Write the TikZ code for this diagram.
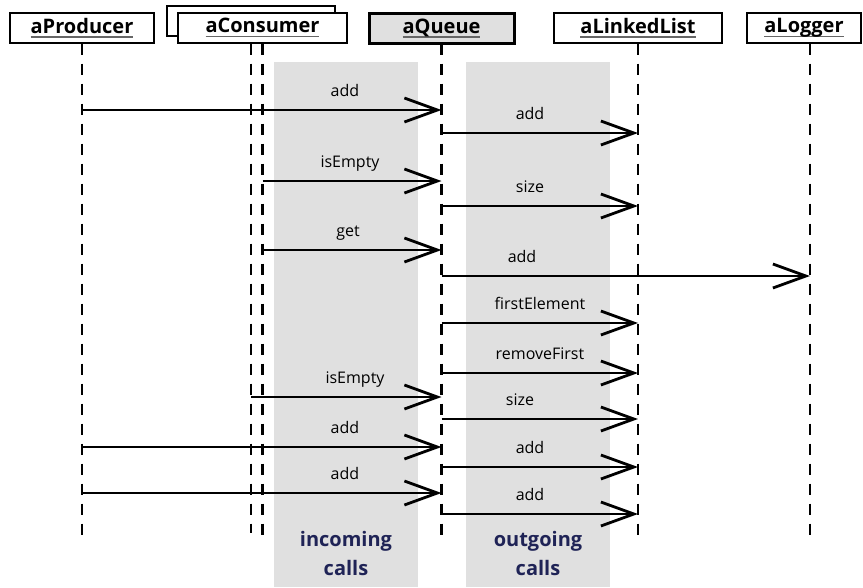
\documentclass[tikz,border=0pt]{standalone}
\usepackage{fontspec}
\setmainfont{Open Sans}
\usepackage{xcolor}
\usetikzlibrary{arrows.meta, positioning}
\definecolor{bandgray}{HTML}{E0E0E0}
\definecolor{callnavy}{HTML}{1F2356}
% underlined object name with a grey rule
\newcommand{\objname}[1]{\setbox0\hbox{#1}\rlap{\color{gray!80!black}\rule[-4.5pt]{\wd0}{1.6pt}}\box0}

\begin{document}
\begin{tikzpicture}[x=1pt, y=-1pt,
  obj/.style={draw, fill=white, line width=1.3pt, minimum height=30pt, inner sep=0pt,
    font=\bfseries\fontsize{20}{24}\selectfont},
  life/.style={line width=2.6pt, dash pattern=on 11pt off 9pt},
  msg/.style={line width=2.4pt, -{Straight Barb[length=33pt, width=24pt, line width=2.8pt]}},
  lbl/.style={font=\fontsize{16}{19}\selectfont, text height=12pt, text depth=4pt, inner sep=0pt},
  band/.style={fill=bandgray, draw=none},
  note/.style={font=\bfseries\fontsize{20}{29}\selectfont, text=callnavy, align=center}]
  \useasboundingbox (0,0) rectangle (863,587);
  % Grey bands for incoming and outgoing calls
  \fill[band] (274,62) rectangle (418,587);
  \fill[band] (466,62) rectangle (610,587);
  % Objects
  \node[obj, minimum width=144pt] (prod) at (82,28) {\objname{aProducer}};
  \node[obj, minimum width=168pt] (cons2) at (251,21) {};
  \node[obj, minimum width=169pt] (cons) at (262.5,28) {\objname{aConsumer}};
  \node[obj, fill=bandgray, line width=3pt, minimum width=145pt] (queue) at (441.5,28) {\objname{aQueue}};
  \node[obj, minimum width=168pt] (list) at (638,28) {\objname{aLinkedList}};
  \node[obj, minimum width=114pt] (logger) at (804,28) {\objname{aLogger}};
  \coordinate (loggerL) at ([xshift=6pt]logger.south);
  % Lifelines
  \draw[life] (cons2.south |- cons.south) -- (cons2 |- 0,533);
  \foreach \o in {prod, cons, queue, list, loggerL}
    \draw[life] (\o |- cons.south) -- (\o |- 0,542);
  % Messages: from/to/y/label/label x
  \foreach \f/\t/\y/\l/\lx in {
      prod/queue/110/add/345, queue/list/133/add/530,
      cons/queue/181/isEmpty/350, queue/list/206/size/530,
      cons/queue/250/get/348, queue/loggerL/276/add/522,
      queue/list/323/firstElement/540, queue/list/373/removeFirst/540,
      cons2/queue/397/isEmpty/355, queue/list/419/size/520,
      prod/queue/447/add/345, queue/list/467/add/530,
      prod/queue/493/add/345, queue/list/514/add/530} {
    \draw[msg] (\f |- 0,\y) -- (\t |- 0,\y);
    \node[lbl] (m\y) at (\lx,\y-18) {\l};
  }
  % Band captions
  \node[note] (inc) at (346,553) {incoming\\calls};
  \node[note] (outg) at (538,553) {outgoing\\calls};
\end{tikzpicture}
\end{document}
